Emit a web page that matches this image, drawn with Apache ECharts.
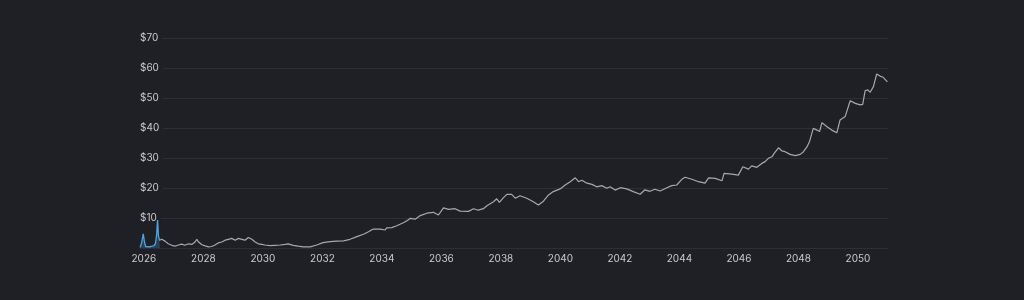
<!DOCTYPE html>
<html>
<head>
<meta charset="utf-8">
<script src="https://cdn.jsdelivr.net/npm/echarts@6/dist/echarts.min.js"></script>
<style>
  html, body { margin: 0; padding: 0; background: #1f2026; }
  #chart { width: 1024px; height: 300px; }
</style>
</head>
<body>
<div id="chart"></div>
<script>
// fractional years on the x axis, dollars on the y axis
const tickYears = [2026, 2028, 2030, 2032, 2034, 2036, 2038, 2040, 2042, 2044, 2046, 2048, 2050]
const priceTicks = [0, 10, 20, 30, 40, 50, 60, 70]

const historyYears = [2025.872, 2025.92, 2025.98, 2026.02, 2026.06, 2026.14, 2026.24, 2026.34, 2026.39, 2026.43, 2026.46, 2026.49, 2026.52, 2026.54]
const historyPrices = [0.2, 1.5, 4.7, 2.0, 0.5, 0.4, 0.5, 0.8, 1.5, 4.5, 9.3, 4.0, 2.8, 2.5]

const projYears = [
  2026.52, 2026.60, 2026.71, 2026.82, 2026.94, 2027.05, 2027.16, 2027.27, 2027.38, 2027.50,
  2027.61, 2027.72, 2027.78, 2027.83, 2027.95, 2028.06, 2028.17, 2028.28, 2028.39, 2028.50,
  2028.62, 2028.73, 2028.84, 2028.95, 2029.07, 2029.18, 2029.29, 2029.40, 2029.51, 2029.63,
  2029.74, 2029.85, 2029.96, 2030.07, 2030.24, 2030.41, 2030.58, 2030.75, 2030.85, 2031.02,
  2031.18, 2031.35, 2031.59, 2031.81, 2032.02, 2032.26, 2032.48, 2032.71, 2032.93, 2033.16,
  2033.38, 2033.55, 2033.71, 2033.94, 2034.11, 2034.16, 2034.33, 2034.50, 2034.61, 2034.74,
  2034.88, 2034.95, 2035.12, 2035.29, 2035.51, 2035.73, 2035.90, 2036.07, 2036.24, 2036.46,
  2036.63, 2036.91, 2037.08, 2037.24, 2037.41, 2037.53, 2037.75, 2037.86, 2037.95, 2038.07,
  2038.20, 2038.36, 2038.48, 2038.64, 2038.87, 2039.09, 2039.26, 2039.43, 2039.60, 2039.76,
  2039.99, 2040.16, 2040.33, 2040.50, 2040.61, 2040.72, 2040.89, 2041.06, 2041.22, 2041.39,
  2041.56, 2041.67, 2041.84, 2042.01, 2042.23, 2042.45, 2042.68, 2042.73, 2042.84, 2043.01,
  2043.18, 2043.35, 2043.58, 2043.74, 2043.91, 2044.08, 2044.19, 2044.42, 2044.64, 2044.86,
  2044.98, 2045.20, 2045.43, 2045.50, 2045.76, 2045.98, 2046.13, 2046.32, 2046.43, 2046.60,
  2046.77, 2046.88, 2046.99, 2047.11, 2047.19, 2047.33, 2047.44, 2047.55, 2047.72, 2047.89,
  2048.06, 2048.17, 2048.28, 2048.37, 2048.45, 2048.50, 2048.62, 2048.71, 2048.79, 2048.96,
  2049.12, 2049.29, 2049.40, 2049.57, 2049.63, 2049.74, 2049.91, 2050.08, 2050.16, 2050.24,
  2050.33, 2050.41, 2050.52, 2050.63, 2050.74, 2050.85, 2050.99
]
const projPrices = [
  2.6, 2.9, 2.3, 1.4, 0.9, 0.6, 1.0, 1.3, 0.9, 1.4,
  1.2, 2.0, 2.9, 2.1, 1.1, 0.7, 0.4, 0.5, 1.0, 1.7,
  2.0, 2.6, 2.9, 3.2, 2.6, 3.2, 2.9, 2.6, 3.5, 2.9,
  2.0, 1.4, 1.2, 1.0, 0.8, 0.9, 1.0, 1.2, 1.4, 0.9,
  0.6, 0.4, 0.4, 1.0, 1.8, 2.1, 2.3, 2.4, 2.9, 3.8,
  4.6, 5.4, 6.3, 6.3, 6.0, 6.7, 6.8, 7.4, 7.9, 8.5,
  9.3, 9.9, 9.6, 10.8, 11.6, 11.9, 11.0, 13.4, 12.9, 13.1,
  12.3, 12.2, 13.1, 12.6, 13.1, 14.1, 15.4, 16.4, 15.2, 16.6,
  17.9, 17.9, 16.6, 17.4, 16.6, 15.4, 14.3, 15.6, 17.7, 18.8,
  19.7, 21.0, 22.1, 23.4, 22.1, 22.6, 21.6, 21.2, 20.4, 20.8,
  19.9, 20.4, 19.3, 20.1, 19.7, 18.8, 17.9, 17.5, 19.4, 18.9,
  19.6, 19.0, 20.1, 20.8, 21.0, 22.9, 23.6, 22.9, 22.1, 21.6,
  23.4, 23.2, 22.4, 24.9, 24.6, 24.3, 27.1, 26.3, 27.4, 26.9,
  28.2, 28.8, 29.9, 30.4, 31.6, 33.4, 32.4, 32.1, 31.2, 30.8,
  31.2, 32.1, 33.6, 35.4, 38.2, 39.9, 39.3, 38.8, 41.8, 40.4,
  39.3, 38.4, 42.7, 43.8, 44.4, 49.1, 48.2, 47.7, 47.9, 52.4,
  52.7, 51.9, 53.8, 58.0, 57.3, 56.9, 55.4
]

const BG = '#1f2026'
const pair = (xs, ys) => xs.map((x, i) => [x, ys[i]])

const chart = echarts.init(document.getElementById('chart'), null, { renderer: 'canvas' })

chart.setOption({
  backgroundColor: BG,
  animation: false,
  textStyle: { fontFamily: 'Inter, "Noto Sans", sans-serif' },
  grid: { left: 140, right: 136, top: 38, bottom: 52 },
  xAxis: {
    type: 'value',
    min: 2025.87,
    max: 2051.01,
    axisLine: { show: false },
    axisTick: { show: false },
    splitLine: { show: false },
    axisLabel: {
      customValues: tickYears,
      formatter: v => String(Math.round(v)),
      color: '#c9cacf',
      fontSize: 10,
      margin: 6,
    },
  },
  yAxis: {
    type: 'value',
    min: priceTicks[0],
    max: priceTicks[priceTicks.length - 1],
    interval: 10,
    axisLine: { show: false },
    axisTick: { show: false },
    splitLine: { lineStyle: { color: 'rgba(255,255,255,0.07)', width: 1 } },
    axisLabel: {
      inside: true,
      margin: 0,
      color: '#c9cacf',
      fontSize: 10,
      formatter: v => (v === 0 ? '' : '$' + v),
      backgroundColor: BG,
      padding: [0, 4, 0, 0],
    },
  },
  series: [
    {
      name: 'projection',
      type: 'line',
      data: pair(projYears, projPrices),
      showSymbol: false,
      lineStyle: { color: '#a7a8ae', width: 1.2 },
      z: 2,
    },
    {
      name: 'history',
      type: 'line',
      data: pair(historyYears, historyPrices),
      showSymbol: false,
      lineStyle: { color: '#4ea6e2', width: 1.3 },
      areaStyle: { color: 'rgba(78,166,226,0.35)' },
      z: 3,
    },
  ],
})
</script>
</body>
</html>
